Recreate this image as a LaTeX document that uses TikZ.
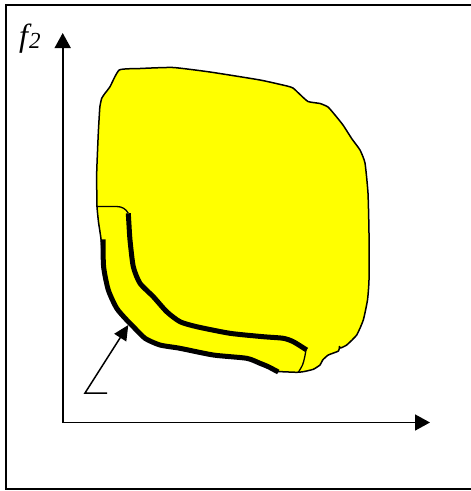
\documentclass[tikz,border=0pt]{standalone}
\usepackage{fontspec}
\setmainfont{Liberation Serif}
\usetikzlibrary{arrows.meta}
\definecolor{blobyellow}{RGB}{255,255,0}
\tikzset{
  frameline/.style={line width=2pt},
  axisline/.style={line width=1.6pt,-{Triangle[length=15pt,width=16pt]}},
  pointer/.style={line width=1.5pt,-{Triangle[length=15pt,width=14pt]}},
  outline/.style={line width=1.5pt,fill=blobyellow,line join=round},
  thinline/.style={line width=1.3pt},
  frontline/.style={line width=5pt,line cap=butt,line join=round},
}
\begin{document}
\begin{tikzpicture}[x=1pt,y=-1pt]
\useasboundingbox (0,0) rectangle (471,491);
% frame
\draw[frameline] (473,4.5) -- (5.8,4.5) -- (5.8,489) -- (473,489);
% feasible region
\draw[outline] plot[smooth cycle,tension=0.3] coordinates {
 (119.3,70) (140,68.5) (173,67.5) (210,72) (260,80) (287,86) (293,88)
 (299,93.5) (308,101.5) (320,103.5) (328,107) (335,115) (343,125) (352,139)
 (360,150) (365,163) (368,193) (369,233) (369,280) (367.5,300) (363.3,320)
 (356.7,335) (346.7,345) (340.5,348) (339.5,346.5) (338.5,351) (328.3,355)
 (322.7,360) (320,365) (313.3,369.3) (303.3,371.7) (296.7,372.3) (281.7,371.7)
 (278.3,371.7) (268.3,366.7) (260,363.3) (246.7,358.3) (213.3,355) (180,348.3)
 (160,345) (145,338.3) (133.3,326.7) (126.7,320) (116.7,308.3) (108.3,290)
 (103.3,266.7) (101,239) (98.5,222) (97,206) (96.7,173) (98.3,133) (99.5,112)
 (100,106) (101.7,98.3) (105,93.3) (110,86.7)
};
% inner boundary lines
\coordinate (ia) at (96,206.5);
\coordinate (ib) at (128.3,213.3);
\draw[thinline] (ia) -- (116.7,206.5) .. controls (122,206.5) and (126,209) .. (ib);
\draw[frontline] plot[smooth,tension=0.4] coordinates {
 (ib) (129,225) (130,240) (133.3,266.7) (140,283.3) (153.3,296.7) (166.7,311.7)
 (180,321.7) (196.7,326.7) (230,333.3) (263.3,336.7) (283.3,338.3) (293.3,341.7)
 (306.7,350)};
\coordinate (ic) at (306,350);
\coordinate (id) at (298.5,372);
\draw[thinline] plot[smooth,tension=0.5] coordinates {(ic) (304.5,358) (302.5,365) (id)};
% outer front line
\draw[frontline] plot[smooth,tension=0.4] coordinates {
 (103,239.3) (103.6,266.7) (108.3,290) (116.7,308.3) (126.7,320) (133.3,326.7)
 (145,338.3) (160,345) (180,348.3) (213.3,355) (246.7,358.3) (260,363.3)
 (268.3,366.7) (278.3,372)};
% axes
\coordinate (O) at (62.7,422.5);
\coordinate (ytip) at (62.7,33);
\coordinate (xtip) at (430,422.5);
\draw[axisline] (O) -- (ytip);
\draw[axisline] (O) -- (xtip);
\node[font=\fontsize{32}{32}\selectfont\itshape, inner sep=0pt, anchor=base west] (f2) at (19,46)
  {f\kern1pt\raisebox{-2pt}{\fontsize{23}{23}\selectfont 2}};
% pointer arrow
\coordinate (pa) at (107,393);
\coordinate (pb) at (85,393);
\coordinate (pt) at (128.3,325);
\draw[pointer] (pa) -- (pb) -- (pt);
\end{tikzpicture}
\end{document}
